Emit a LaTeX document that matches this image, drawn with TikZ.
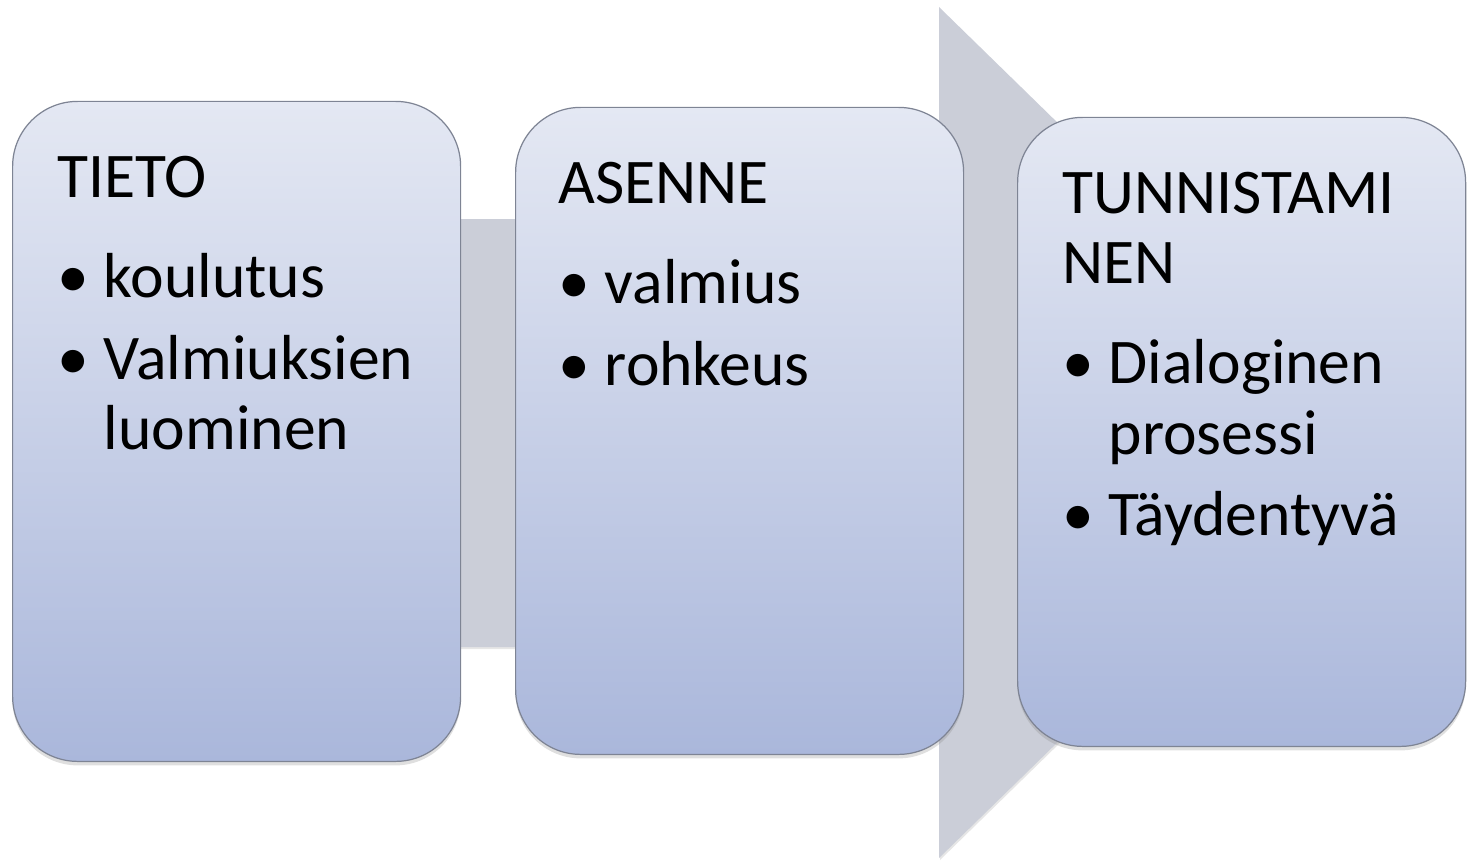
\documentclass[tikz,border=0pt]{standalone}
\usepackage{fontspec}
\setmainfont{Carlito}
\usetikzlibrary{positioning,shadows}

\definecolor{arrowgray}{HTML}{CBCED8}
\definecolor{boxtop}{HTML}{E4E8F3}
\definecolor{boxbottom}{HTML}{AAB7DB}
\definecolor{boxline}{HTML}{7E8494}

\tikzset{
  stage/.style={draw=boxline, line width=0.7pt, rounded corners=1.3cm,
    top color=boxtop, bottom color=boxbottom, minimum width=8.96cm,
    anchor=south west, inner sep=0pt,
    drop shadow={shadow xshift=0cm, shadow yshift=-0.08cm, opacity=0.25}},
  stagetext/.style={inner sep=0pt, font=\fontsize{36.2}{40}\selectfont}
}

\begin{document}
\begin{tikzpicture}
                \useasboundingbox (0,0) rectangle (29.34,17.22);

                % Draw the big arrow behind the boxes
                \fill[arrowgray, drop shadow={shadow xshift=0.02cm, shadow yshift=-0.04cm, opacity=0.2}]
                  (2,12.84) -- (18.78,12.84) -- (18.78,17.08) -- (27.5,8.57)
                  -- (18.78,0.06) -- (18.78,4.28) -- (2,4.28) -- cycle;

                % Draw the three boxes
                \node[stage, minimum height=13.2cm] (tieto) at (0.24,1.98) {};
                \node[stage, minimum height=12.94cm] (asenne) at (10.3,2.12) {};
                \node[stage, minimum height=12.58cm] (tunnistaminen) at (20.34,2.28) {};

                % Write the texts in the boxes
                \node[stagetext, below right=0.94cm and 0.9cm of tieto.north west] (tietotext) {%
                  \begin{tabular}{@{}p{0.93cm}@{}l@{}}
                    \multicolumn{2}{@{}l@{}}{TIETO}\\[17pt]
                    \textbullet & koulutus\\[6.5pt]
                    \textbullet & Valmiuksien\\
                    & luominen
                  \end{tabular}};
                \node[stagetext, below right=0.94cm and 0.86cm of asenne.north west] (asennetext) {%
                  \begin{tabular}{@{}p{0.93cm}@{}l@{}}
                    \multicolumn{2}{@{}l@{}}{ASENNE}\\[17pt]
                    \textbullet & valmius\\[6.5pt]
                    \textbullet & rohkeus
                  \end{tabular}};
                \node[stagetext, below right=0.94cm and 0.9cm of tunnistaminen.north west] (tunnistamistext) {%
                  \begin{tabular}{@{}p{0.93cm}@{}l@{}}
                    \multicolumn{2}{@{}l@{}}{TUNNISTAMI}\\
                    \multicolumn{2}{@{}l@{}}{NEN}\\[17pt]
                    \textbullet & Dialoginen\\
                    & prosessi\\[6.5pt]
                    \textbullet & Täydentyvä
                  \end{tabular}};
\end{tikzpicture}
\end{document}
